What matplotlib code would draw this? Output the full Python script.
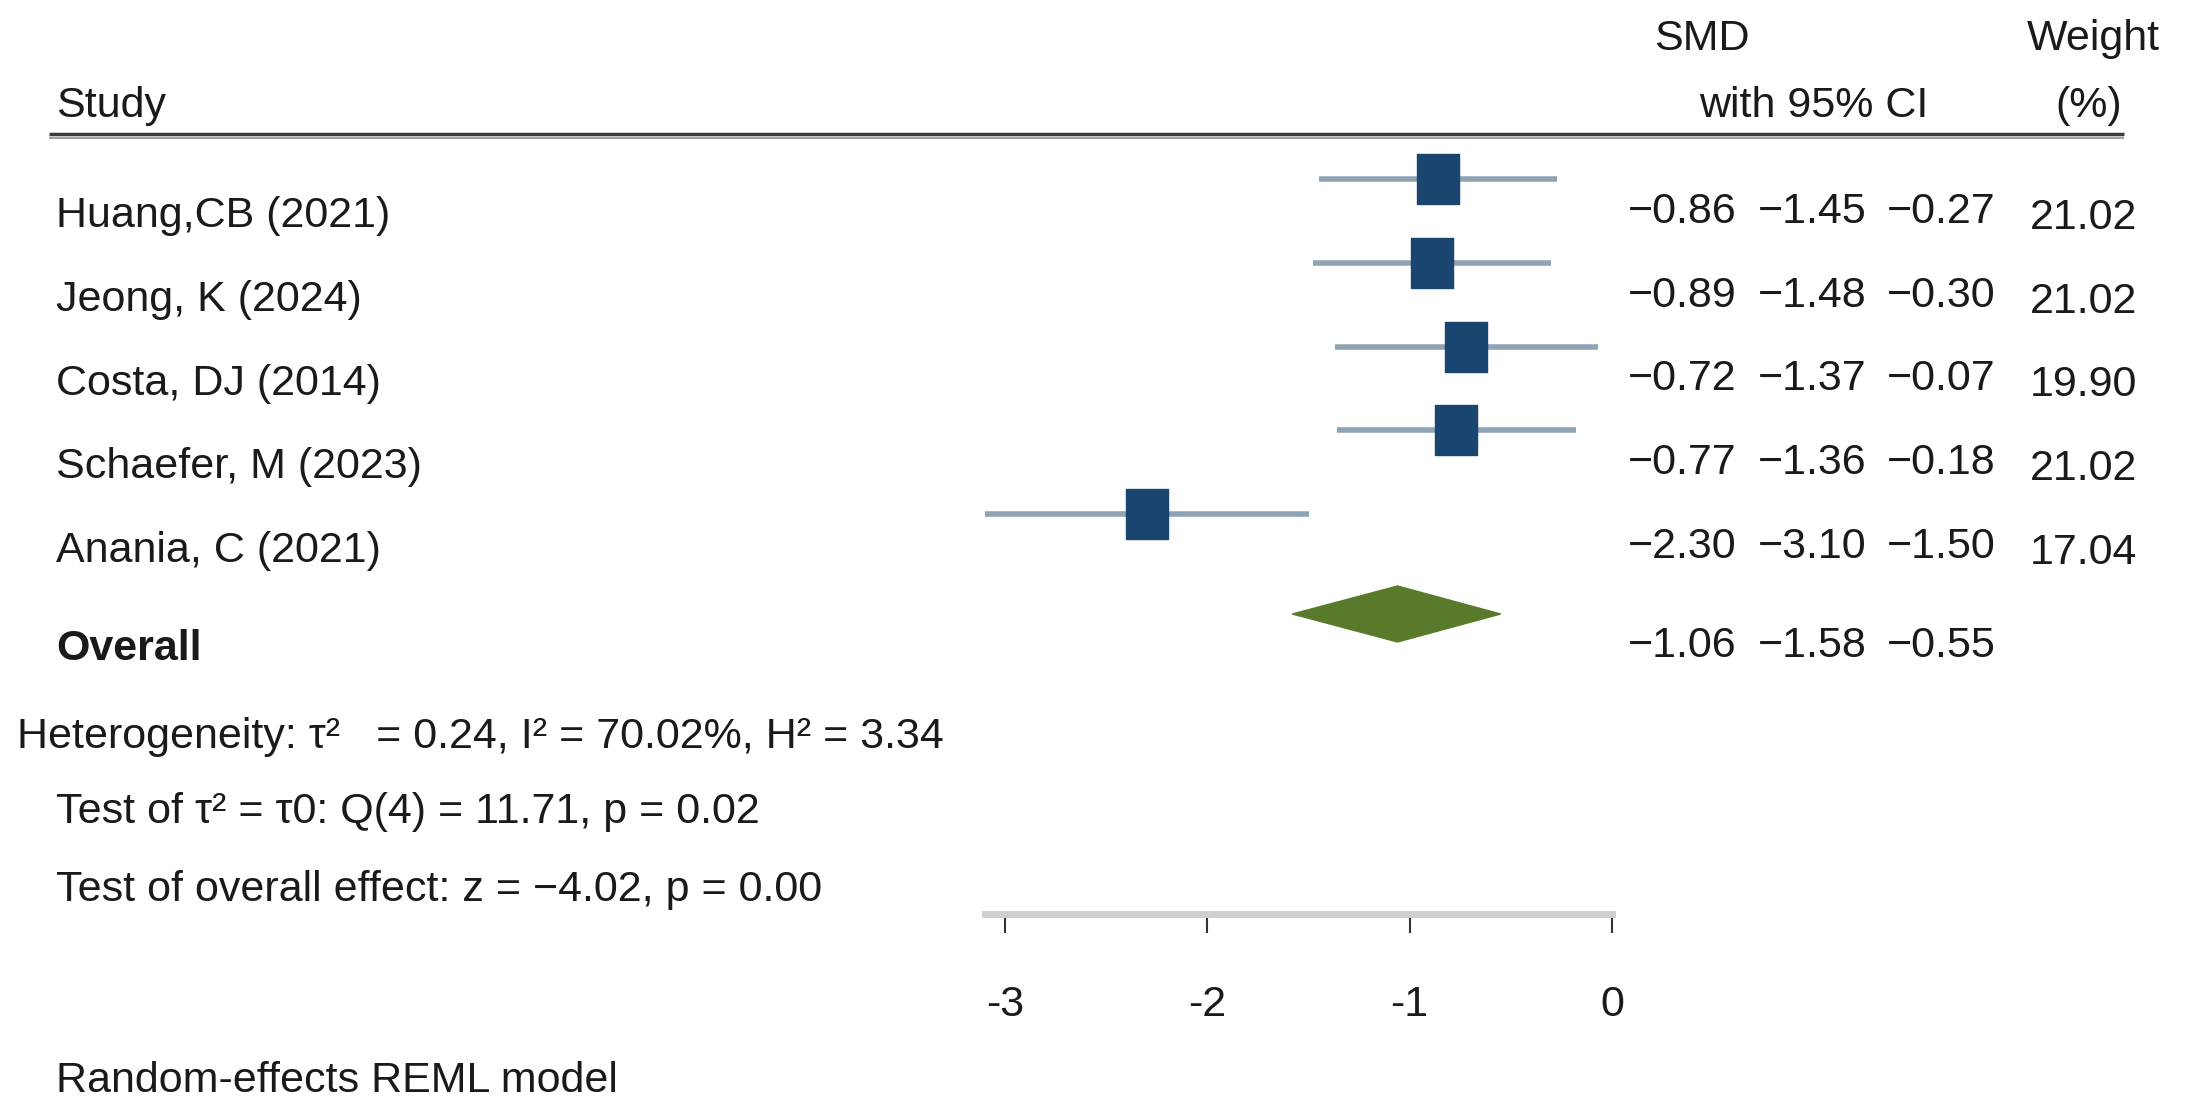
import matplotlib
matplotlib.use("Agg")
import matplotlib.pyplot as plt
from matplotlib.patches import Polygon

# data
studies = ["Huang,CB (2021)", "Jeong, K (2024)", "Costa, DJ (2014)",
           "Schaefer, M (2023)", "Anania, C (2021)"]
smd = [-0.86, -0.89, -0.72, -0.77, -2.30]
ci_low = [-1.45, -1.48, -1.37, -1.36, -3.10]
ci_high = [-0.27, -0.30, -0.07, -0.18, -1.50]
weights = [21.02, 21.02, 19.90, 21.02, 17.04]
overall_smd = -1.06
overall_low = -1.58
overall_high = -0.55
ticks = [-3, -2, -1, 0]

het_text = "Heterogeneity: \u03c4\u00b2   = 0.24, I\u00b2 = 70.02%, H\u00b2 = 3.34"
test_tau_text = "Test of \u03c4\u00b2 = \u03c40: Q(4) = 11.71, p = 0.02"
test_eff_text = "Test of overall effect: z = \u22124.02, p = 0.00"
model_text = "Random-effects REML model"

W, H = 2188, 1117
FAM = ["Liberation Sans", "DejaVu Sans"]
FS = 31
SQUARE = "#1b4571"
CI_COL = "#8ea3b6"
DIAMOND = "#5a7a2b"
TXT = "#1a1a1a"
# left edges of the three number columns (smd, low, high), pixels
NUM_X = [1628, 1758, 1887]


def fmt(v):
    return f"{v:.2f}".replace("-", "\u2212")


fig = plt.figure(figsize=(W / 100, H / 100), dpi=100)

# full-figure layer for text, in pixel coordinates
bg = fig.add_axes([0, 0, 1, 1])
bg.set_xlim(0, W)
bg.set_ylim(H, 0)
bg.axis("off")

# plot layer, x in SMD units, y in pixels
ax_top, ax_bot = 135, 914
ax = fig.add_axes([1005 / W, 1 - ax_bot / H, 607 / W, (ax_bot - ax_top) / H])
ax.set_xlim(-3, 0)
ax.set_ylim(ax_bot, ax_top)
ax.patch.set_alpha(0)
for s in ["left", "top", "right"]:
    ax.spines[s].set_visible(False)
ax.spines["bottom"].set_color("#cfcfcf")
ax.spines["bottom"].set_linewidth(5)
ax.spines["bottom"].set_bounds(min(ci_low), 0)
ax.set_yticks([])
ax.set_xticks(ticks)
ax.set_xticklabels([str(t) for t in ticks], fontsize=FS, family=FAM, color=TXT)
ax.tick_params(axis="x", direction="out", length=14, width=1.5, color="#333333", pad=37)

# header
t_kw = dict(fontsize=FS, family=FAM, color=TXT, va="center")
bg.text(56, 106, "Study", ha="left", **t_kw)
bg.text(1702, 39, "SMD", ha="center", **t_kw)
bg.text(1814, 106, "with 95% CI", ha="center", **t_kw)
bg.text(2093, 39, "Weight", ha="center", **t_kw)
bg.text(2089, 106, "(%)", ha="center", **t_kw)
bg.plot([49, 2124], [134, 134], color="#3a3a3a", lw=2.5, solid_capstyle="butt")
bg.plot([49, 2124], [138, 138], color="#a0a0a0", lw=1.5, solid_capstyle="butt")

# study rows
row0, step, offs = 216, 83.75, 37
sq_marker = [(-0.42, -0.5), (0.42, -0.5), (0.42, 0.5), (-0.42, 0.5), (-0.42, -0.5)]
for i, name in enumerate(studies):
    yt = row0 + i * step
    ym = yt - offs
    ax.plot([ci_low[i], ci_high[i]], [ym, ym], color=CI_COL, lw=4,
            solid_capstyle="butt", clip_on=False, zorder=2)
    ax.plot([smd[i]], [ym], marker=sq_marker, markersize=36, color=SQUARE,
            markeredgecolor=SQUARE, linestyle="none", clip_on=False, zorder=3)
    bg.text(56, yt, name, ha="left", **t_kw)
    for x0, v in zip(NUM_X, [smd[i], ci_low[i], ci_high[i]]):
        bg.text(x0, yt - 4, fmt(v), ha="left", **t_kw)
    bg.text(2030, yt + 2, f"{weights[i]:.2f}", ha="left", **t_kw)

# overall
yd = 614
half_h = 28
diamond = Polygon([(overall_low, yd), (overall_smd, yd - half_h),
                   (overall_high, yd), (overall_smd, yd + half_h)],
                  closed=True, facecolor=DIAMOND, edgecolor=DIAMOND, clip_on=False, zorder=3)
ax.add_patch(diamond)
bg.text(56, 649, "Overall", ha="left", fontweight="bold", **t_kw)
for x0, v in zip(NUM_X, [overall_smd, overall_low, overall_high]):
    bg.text(x0, 646, fmt(v), ha="left", **t_kw)

# footnotes
bg.text(17, 737, het_text, ha="left", **t_kw)
bg.text(56, 812, test_tau_text, ha="left", **t_kw)
bg.text(56, 890, test_eff_text, ha="left", **t_kw)
bg.text(56, 1081, model_text, ha="left", **t_kw)

fig.savefig("out.png", dpi=100)
